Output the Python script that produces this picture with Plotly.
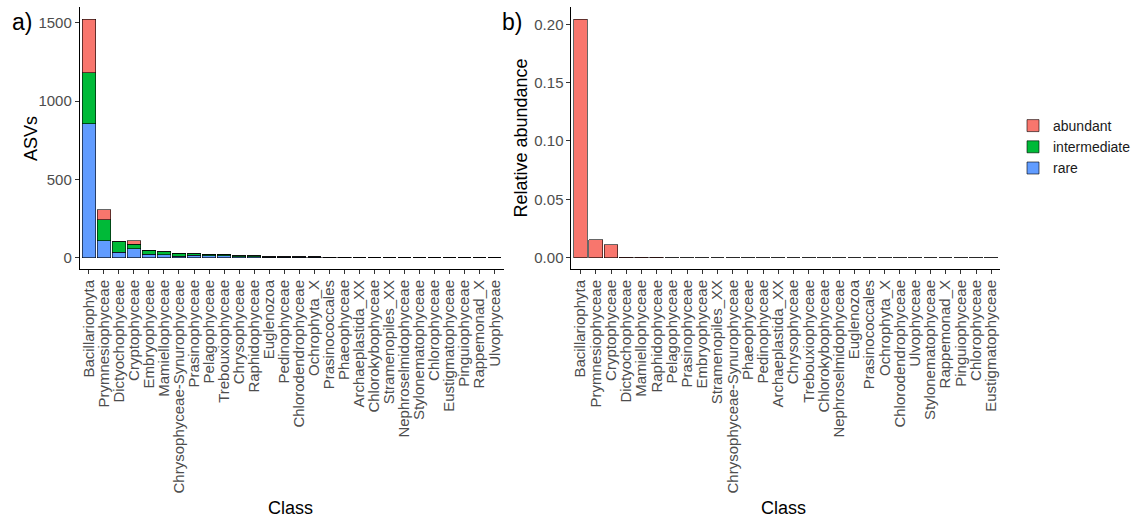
import plotly.graph_objects as go

# ---------------- data ----------------
classes_a = ["Bacillariophyta", "Prymnesiophyceae", "Dictyochophyceae", "Cryptophyceae",
             "Embryophyceae", "Mamiellophyceae", "Chrysophyceae-Synurophyceae", "Prasinophyceae",
             "Pelagophyceae", "Trebouxiophyceae", "Chrysophyceae", "Raphidophyceae",
             "Euglenozoa", "Pedinophyceae", "Chlorodendrophyceae", "Ochrophyta_X",
             "Prasinococcales", "Phaeophyceae", "Archaeplastida_XX", "Chlorokybophyceae",
             "Stramenopiles_XX", "Nephroselmidophyceae", "Stylonematophyceae", "Chlorophyceae",
             "Eustigmatophyceae", "Pinguiophyceae", "Rappemonad_X", "Ulvophyceae"]
rare_a = [855, 109, 34, 56, 22, 20, 8, 15, 12, 12, 6, 6, 3, 3, 3, 3, 2, 2,
          1, 1, 1, 1, 1, 1, 1, 1, 1, 1]
intermediate_a = [325, 132, 68, 30, 27, 18, 20, 10, 10, 10, 6, 6, 2, 2, 2, 2, 2, 2,
                  0, 0, 0, 0, 0, 0, 0, 0, 0, 0]
abundant_a = [342, 64, 0, 21, 0, 0, 0, 0, 0, 0, 0, 0, 0, 0, 0, 0, 0, 0,
              0, 0, 0, 0, 0, 0, 0, 0, 0, 0]

classes_b = ["Bacillariophyta", "Prymnesiophyceae", "Cryptophyceae", "Dictyochophyceae",
             "Mamiellophyceae", "Raphidophyceae", "Pelagophyceae", "Prasinophyceae",
             "Embryophyceae", "Stramenopiles_XX", "Chrysophyceae-Synurophyceae", "Phaeophyceae",
             "Pedinophyceae", "Archaeplastida_XX", "Chrysophyceae", "Trebouxiophyceae",
             "Chlorokybophyceae", "Nephroselmidophyceae", "Euglenozoa", "Prasinococcales",
             "Ochrophyta_X", "Chlorodendrophyceae", "Ulvophyceae", "Stylonematophyceae",
             "Rappemonad_X", "Pinguiophyceae", "Chlorophyceae", "Eustigmatophyceae"]
relabund_b = [0.2043, 0.0152, 0.0109, 0.0006, 0.0005, 0.0005, 0.0001, 0.0001, 0.0001,
              0.0001, 0.0001, 0.0001, 0.0001, 0.0001, 0.0001, 0.0001, 0.0001, 0.0001,
              0.0001, 0.0001, 0.0001, 0.0001, 0.0001, 0.0001, 0.0001, 0.0001, 0.0001, 0.0001]

col_abundant = "#F8766D"
col_intermediate = "#00BA38"
col_rare = "#619CFF"

W, H = 1136, 518
FONT = "Liberation Sans, Arial, sans-serif"
TICK_COL = "#4D4D4D"

fig = go.Figure()
line = dict(color="black", width=0.6)

fig.add_trace(go.Bar(x=classes_a, y=rare_a, name="rare", marker=dict(color=col_rare, line=line),
                     xaxis="x", yaxis="y", legendrank=3))
fig.add_trace(go.Bar(x=classes_a, y=intermediate_a, name="intermediate",
                     marker=dict(color=col_intermediate, line=line),
                     xaxis="x", yaxis="y", legendrank=2))
fig.add_trace(go.Bar(x=classes_a, y=abundant_a, name="abundant",
                     marker=dict(color=col_abundant, line=line),
                     xaxis="x", yaxis="y", legendrank=1))
fig.add_trace(go.Bar(x=classes_b, y=relabund_b, name="abundant", showlegend=False,
                     marker=dict(color=col_abundant, line=line),
                     xaxis="x2", yaxis="y2"))

def px_x(p):
    return p / W

def px_y(p):
    return 1 - p / H

ydom = [px_y(269), px_y(7)]

common_x = dict(type="category", showline=True, linecolor="black", linewidth=1,
                ticks="outside", ticklen=4, tickcolor="#333333", tickwidth=1,
                tickangle=-90, tickfont=dict(family=FONT, size=15, color=TICK_COL),
                tickmode="linear", tick0=0, dtick=1,
                showgrid=False, zeroline=False, range=[-0.6, 27.6])
common_y = dict(showline=True, linecolor="black", linewidth=1,
                ticks="outside", ticklen=4, tickcolor="#333333", tickwidth=1,
                tickfont=dict(family=FONT, size=15, color=TICK_COL),
                showgrid=False, zeroline=False, domain=ydom)

fig.update_layout(
    width=W, height=H,
    margin=dict(l=0, r=0, t=0, b=0),
    paper_bgcolor="white", plot_bgcolor="white",
    barmode="stack", bargap=0.1,
    font=dict(family=FONT, color="black"),
    xaxis=dict(common_x, domain=[px_x(80), px_x(505)], anchor="y",
               categoryorder="array", categoryarray=classes_a),
    yaxis=dict(common_y, anchor="x", range=[-72, 1600], tickvals=[0, 500, 1000, 1500]),
    xaxis2=dict(common_x, domain=[px_x(573), px_x(1003)], anchor="y2",
                categoryorder="array", categoryarray=classes_b),
    yaxis2=dict(common_y, anchor="x2", range=[-0.00968, 0.2148],
                tickvals=[0, 0.05, 0.10, 0.15, 0.20], tickformat=".2f"),
    legend=dict(x=px_x(1016), y=px_y(110), xanchor="left", yanchor="top",
                traceorder="normal",
                font=dict(family=FONT, size=14, color="#1A1A1A"),
                tracegroupgap=0, bgcolor="rgba(0,0,0,0)"),
    showlegend=True,
)

annos = [
    dict(text="a)", x=px_x(22), y=px_y(22), font=dict(size=23, color="black")),
    dict(text="b)", x=px_x(513), y=px_y(22), font=dict(size=23, color="black")),
    dict(text="ASVs", x=px_x(31), y=px_y(138), textangle=-90, font=dict(size=18, color="black")),
    dict(text="Relative abundance", x=px_x(522), y=px_y(138), textangle=-90,
         font=dict(size=18, color="black")),
    dict(text="Class", x=px_x(291), y=px_y(508), font=dict(size=18, color="black")),
    dict(text="Class", x=px_x(786), y=px_y(508), font=dict(size=18, color="black")),
]
for a in annos:
    a.update(xref="paper", yref="paper", showarrow=False, xanchor="center", yanchor="middle")
    a["font"]["family"] = FONT
fig.update_layout(annotations=annos)

fig.write_html("out.html")
